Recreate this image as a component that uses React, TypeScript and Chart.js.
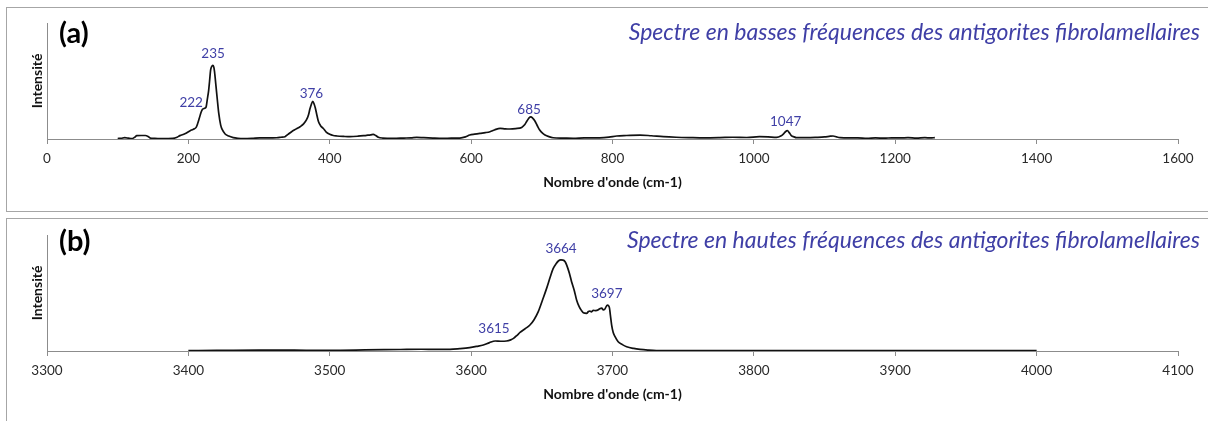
import React, { useEffect, useRef } from 'react';
import { Chart, registerables } from 'chart.js';

Chart.register(...registerables);
Chart.defaults.font.family = 'Lato, "Open Sans", sans-serif';

// ---------- Panel (a): low-frequency spectrum ----------
const freqA = [
  100, 105, 110, 115, 120, 124, 127, 133, 139, 143, 146, 152, 160, 170, 178, 184, 188, 195, 202, 207,
  211, 213.5, 215.5, 218, 220, 223, 225, 227, 228.7, 230, 231.5, 233, 234.5, 236, 237, 239, 241, 243,
  245.7, 248, 252, 257, 263.5, 270, 277.7, 290, 301, 313, 325, 331, 336.7, 341, 346, 352, 358, 363,
  367, 370, 372, 374, 376, 378, 379.5, 382, 384, 387, 391, 395, 400, 405, 410, 420, 428.6, 440, 452,
  458, 461.6, 465, 468.7, 475, 490, 505, 515, 523, 533, 546, 560, 572, 584, 592, 598, 605, 612.5, 620,
  626.7, 633, 641, 648, 655, 663, 671.5, 676, 679, 682, 684.5, 687, 690, 694, 697, 701, 704.5, 710,
  716, 730, 744.6, 760, 782, 795, 806, 820, 839, 855, 872, 890, 909.6, 930, 952, 970, 990, 1008, 1020,
  1032, 1038, 1042, 1045, 1047.5, 1050, 1053, 1057, 1060, 1075, 1089, 1100, 1108, 1112, 1117, 1122,
  1135, 1147, 1160, 1172, 1185, 1195, 1207, 1218, 1230, 1242, 1250, 1256,
];
const intensA = [
  0.4, 0.6, 1.1, 0.7, 0.3, 1.5, 2.9, 3.0, 3.0, 2.2, 0.9, 0.5, 0.3, 0.4, 0.5, 1.5, 2.9, 4.5, 7, 8.5,
  10, 14, 18, 23, 25.6, 26.5, 27.5, 35, 42, 50, 59.5, 62.5, 63.5, 62, 58, 46, 33.6, 22,
  12, 8, 4.3, 2.5, 1.2, 0.6, 0.3, 0.5, 0.9, 0.9, 1.1, 1.5, 2, 4, 6.3, 8.5, 10.6, 13,
  16.4, 21, 26, 30, 32.5, 30, 27, 20, 15, 11.5, 9, 6, 4, 3, 2.6, 2.2, 2, 2.4, 3.2,
  3.6, 4, 3, 1.5, 0.8, 0.5, 0.8, 1.0, 1.4, 1.1, 0.8, 0.6, 0.7, 0.8, 1.8, 3.4, 4.2, 4.9, 5.5,
  6.3, 7.8, 9.2, 8.8, 8.6, 9.0, 10, 12.5, 15.5, 18.2, 19, 18, 15.8, 11, 7.8, 5, 3.4, 2,
  1.1, 0.8, 0.6, 0.9, 1, 1.6, 2.6, 3.0, 3.4, 2.8, 2.0, 1.5, 1.2, 1.0, 1.2, 1.5, 1.3, 2.0, 1.8,
  1.4, 2.5, 4.5, 6.5, 7.2, 5.5, 2.9, 1.8, 1.2, 1.1, 1.4, 1.8, 2.4, 2.6, 1.8, 1.2,
  0.9, 1.0, 0.6, 0.9, 0.7, 1.0, 0.9, 1.2, 0.8, 1.1, 0.9, 1.2,
];
const xMinA = 0;
const xMaxA = 1600;
const xStepA = 200;
const peakTextA = ['235', '222', '376', '685', '1047'];
const peakLabelXA = [235, 204, 374, 682, 1045];
const peakLabelYA = [73.9, 31.6, 39, 25, 15.2];
const titleA = 'Spectre en basses fréquences des antigorites fibrolamellaires';

// ---------- Panel (b): high-frequency spectrum ----------
const freqB = [
  3400, 3420, 3450, 3475, 3500, 3525, 3550, 3565, 3575, 3585, 3592, 3599, 3604, 3608.6, 3613, 3617,
  3621, 3625, 3628, 3630, 3632.5, 3634.6, 3638, 3641.6, 3644.5, 3647.5, 3650.5, 3653.4, 3656, 3658,
  3660, 3661.7, 3663.5, 3665, 3666.5, 3667.6, 3669.5, 3671, 3673, 3674.6, 3676.5, 3678, 3679.4,
  3681.7, 3683, 3684, 3685, 3686.4, 3688, 3690, 3691, 3692.4, 3693.5, 3694.5, 3696.3, 3697.7, 3698.5,
  3699.4, 3700.5, 3701.8, 3704, 3707, 3710, 3715, 3719.5, 3725, 3731, 3750, 3800, 3850, 3900, 3950, 4000,
];
const intensB = [
  0.4, 0.5, 0.8, 0.7, 0.6, 0.9, 1.3, 1.5, 1.4, 1.4, 2, 2.9, 4, 5.2, 7.2, 8.6,
  8.4, 8.6, 9.6, 10.9, 13.5, 16, 19, 22.4, 27, 34, 44, 54, 64, 71,
  75, 77.6, 78.5, 78.4, 77, 74, 67, 60, 52, 44, 38, 35, 33,
  32.5, 34, 34.5, 33.8, 35, 34.8, 35.5, 36.5, 37, 35.5, 36, 39.6, 38, 31,
  22.4, 16, 12.4, 8, 5.5, 3.7, 2.2, 1.4, 0.8, 0.4, 0.3, 0.3, 0.4, 0.3, 0.4, 0.4,
];
const xMinB = 3300;
const xMaxB = 4100;
const xStepB = 100;
const peakTextB = ['3664', '3615', '3697'];
const peakLabelXB = [3663.6, 3616.2, 3696];
const peakLabelYB = [88.3, 19.6, 49.8];
const titleB = 'Spectre en hautes fréquences des antigorites fibrolamellaires';

const BLUE = '#3f3fa6';
const AXIS_GREY = '#8c8c8c';

type PanelProps = {
  top: number;
  height: number;
  padBottom: number;
  freq: number[];
  intens: number[];
  xMin: number;
  xMax: number;
  xStep: number;
  peakText: string[];
  peakX: number[];
  peakY: number[];
  letter: string;
  letterY: number;
  title: string;
  titleY: number;
};

function Panel(p: PanelProps) {
  const ref = useRef<HTMLCanvasElement | null>(null);
  useEffect(() => {
    if (!ref.current) return;
    const annot = {
      id: 'annot',
      afterDraw(chart: any) {
        const { ctx, scales } = chart;
        const xs = scales.x;
        const ys = scales.y;
        ctx.save();
        ctx.font = '13.5px Lato, "Open Sans", sans-serif';
        ctx.fillStyle = BLUE;
        ctx.textAlign = 'center';
        ctx.textBaseline = 'middle';
        p.peakText.forEach((t, i) => {
          ctx.fillText(t, xs.getPixelForValue(p.peakX[i]), ys.getPixelForValue(p.peakY[i]));
        });
        ctx.font = 'bold 29px Lato, "Open Sans", sans-serif';
        ctx.fillStyle = '#000';
        ctx.textAlign = 'left';
        ctx.fillText(p.letter, 59, p.letterY);
        ctx.font = 'italic 23px Lato, "Open Sans", sans-serif';
        ctx.fillStyle = BLUE;
        ctx.textAlign = 'right';
        ctx.fillText(p.title, 1200, p.titleY);
        ctx.restore();
      },
    };
    const chart = new Chart(ref.current, {
      type: 'line',
      data: {
        datasets: [
          {
            data: p.freq.map((f, i) => ({ x: f, y: p.intens[i] })),
            borderColor: '#111',
            borderWidth: 1.7,
            pointRadius: 0,
            fill: false,
            cubicInterpolationMode: 'monotone',
          },
        ],
      },
      options: {
        responsive: false,
        animation: false,
        layout: { padding: { left: 29, right: 30, top: 23, bottom: p.padBottom } },
        plugins: { legend: { display: false }, tooltip: { enabled: false } },
        scales: {
          x: {
            type: 'linear',
            min: p.xMin,
            max: p.xMax,
            ticks: {
              stepSize: p.xStep,
              color: '#2a2a2a',
              font: { size: 13.5 },
              padding: 7,
              maxRotation: 0,
              autoSkip: false,
              callback: (v: any) => String(v),
            },
            grid: {
              display: true,
              drawOnChartArea: false,
              drawTicks: true,
              tickLength: 5,
              color: AXIS_GREY,
            },
            border: { display: true, color: AXIS_GREY },
            title: {
              display: true,
              text: "Nombre d'onde (cm-1)",
              font: { size: 14, weight: 'bold' },
              color: '#111',
              padding: 0,
            },
            afterFit: (s: any) => {
              s.height = 52;
            },
          },
          y: {
            type: 'linear',
            min: 0,
            max: 100,
            ticks: { display: false },
            grid: { display: false, drawTicks: false },
            border: { display: true, color: AXIS_GREY },
            title: {
              display: true,
              text: 'Intensité',
              font: { size: 14, weight: 'bold' },
              color: '#111',
              padding: 0,
            },
            afterFit: (s: any) => {
              s.width = 18;
            },
          },
        },
      } as any,
      plugins: [annot],
    });
    return () => chart.destroy();
  }, []);
  return (
    <canvas
      ref={ref}
      width={1208}
      height={p.height}
      style={{ position: 'absolute', left: 0, top: p.top, width: 1208, height: p.height }}
    />
  );
}

export default function App() {
  return (
    <div
      style={{
        position: 'absolute',
        left: 0,
        top: 0,
        width: 1208,
        height: 421,
        overflow: 'hidden',
        background: '#fff',
      }}
    >
      <div
        style={{
          position: 'absolute',
          left: 6,
          top: 7,
          width: 1220,
          height: 203,
          border: '1px solid #a6a6a6',
        }}
      />
      <div
        style={{
          position: 'absolute',
          left: 6,
          top: 218,
          width: 1220,
          height: 220,
          border: '1px solid #a6a6a6',
        }}
      />
      <Panel
        top={0}
        height={211}
        padBottom={20}
        freq={freqA}
        intens={intensA}
        xMin={xMinA}
        xMax={xMaxA}
        xStep={xStepA}
        peakText={peakTextA}
        peakX={peakLabelXA}
        peakY={peakLabelYA}
        letter="(a)"
        letterY={34}
        title={titleA}
        titleY={33}
      />
      <Panel
        top={212}
        height={209}
        padBottom={18}
        freq={freqB}
        intens={intensB}
        xMin={xMinB}
        xMax={xMaxB}
        xStep={xStepB}
        peakText={peakTextB}
        peakX={peakLabelXB}
        peakY={peakLabelYB}
        letter="(b)"
        letterY={30}
        title={titleB}
        titleY={29}
      />
    </div>
  );
}
